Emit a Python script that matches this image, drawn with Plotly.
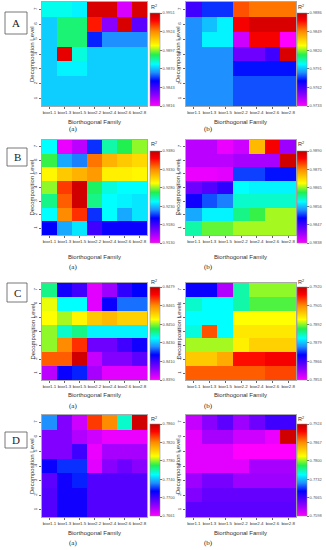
import plotly.graph_objects as go

W, H = 326, 550

families = ["bior1.1", "bior1.3", "bior1.5", "bior2.2", "bior2.4", "bior2.6", "bior2.8"]
levels_top_down = [7, 6, 5, 4, 3, 2, 1]

# Normalised colour position (0 = bottom of colour bar, 1 = top), rows from level 7 down to level 1
z_A_a = [
    [0.46, 0.46, 0.44, 0.97, 0.97, 0.04, 0.97],
    [0.41, 0.53, 0.53, 0.90, 0.12, 0.97, 0.17],
    [0.41, 0.53, 0.53, 0.29, 0.36, 0.36, 0.36],
    [0.41, 0.95, 0.47, 0.41, 0.41, 0.41, 0.41],
    [0.41, 0.44, 0.44, 0.41, 0.41, 0.41, 0.41],
    [0.41, 0.41, 0.41, 0.41, 0.41, 0.41, 0.41],
    [0.41, 0.41, 0.41, 0.41, 0.41, 0.41, 0.41],
]
z_A_b = [
    [0.20, 0.30, 0.30, 0.85, 0.82, 0.82, 0.82],
    [0.36, 0.40, 0.44, 0.93, 0.97, 0.97, 0.97],
    [0.36, 0.44, 0.44, 0.05, 0.93, 0.93, 0.00],
    [0.36, 0.36, 0.36, 0.15, 0.15, 0.20, 0.97],
    [0.36, 0.36, 0.36, 0.28, 0.28, 0.28, 0.28],
    [0.36, 0.36, 0.36, 0.32, 0.32, 0.32, 0.32],
    [0.36, 0.36, 0.36, 0.32, 0.32, 0.32, 0.32],
]
z_B_a = [
    [0.45, 0.02, 0.07, 0.30, 0.50, 0.55, 0.60],
    [0.56, 0.38, 0.35, 0.82, 0.75, 0.72, 0.70],
    [0.66, 0.72, 0.75, 0.78, 0.67, 0.67, 0.66],
    [0.60, 0.87, 0.98, 0.54, 0.47, 0.45, 0.45],
    [0.52, 0.84, 0.98, 0.52, 0.45, 0.44, 0.43],
    [0.45, 0.80, 0.88, 0.30, 0.45, 0.38, 0.43],
    [0.27, 0.38, 0.43, 0.20, 0.26, 0.26, 0.26],
]
z_B_b = [
    [0.07, 0.07, 0.02, 0.05, 0.74, 0.93, 0.10],
    [0.07, 0.07, 0.07, 0.09, 0.09, 0.09, 0.98],
    [0.02, 0.02, 0.03, 0.31, 0.31, 0.28, 0.28],
    [0.15, 0.18, 0.22, 0.45, 0.44, 0.44, 0.44],
    [0.25, 0.32, 0.35, 0.48, 0.48, 0.48, 0.48],
    [0.38, 0.44, 0.44, 0.52, 0.56, 0.61, 0.61],
    [0.50, 0.58, 0.58, 0.61, 0.61, 0.61, 0.61],
]
z_C_a = [
    [0.52, 0.25, 0.20, 0.03, 0.10, 0.22, 0.27],
    [0.64, 0.45, 0.45, 0.03, 0.26, 0.34, 0.34],
    [0.65, 0.61, 0.66, 0.72, 0.74, 0.71, 0.71],
    [0.60, 0.48, 0.52, 0.44, 0.44, 0.44, 0.44],
    [0.60, 0.80, 0.88, 0.15, 0.15, 0.20, 0.25],
    [0.84, 0.84, 0.98, 0.06, 0.13, 0.13, 0.17],
    [0.07, 0.26, 0.29, 0.09, 0.03, 0.03, 0.03],
]
z_C_b = [
    [0.26, 0.26, 0.08, 0.50, 0.60, 0.60, 0.60],
    [0.48, 0.45, 0.45, 0.50, 0.57, 0.57, 0.57],
    [0.45, 0.45, 0.45, 0.65, 0.65, 0.65, 0.65],
    [0.47, 0.85, 0.45, 0.68, 0.68, 0.68, 0.68],
    [0.61, 0.61, 0.61, 0.67, 0.71, 0.71, 0.71],
    [0.72, 0.72, 0.76, 0.91, 0.91, 0.93, 0.93],
    [0.84, 0.84, 0.84, 0.84, 0.84, 0.86, 0.86],
]
z_D_a = [
    [0.36, 0.13, 0.05, 0.87, 0.80, 0.48, 0.98],
    [0.13, 0.13, 0.08, 0.05, 0.02, 0.02, 0.02],
    [0.13, 0.13, 0.20, 0.02, 0.09, 0.09, 0.09],
    [0.26, 0.30, 0.30, 0.03, 0.12, 0.15, 0.12],
    [0.17, 0.25, 0.29, 0.18, 0.18, 0.18, 0.18],
    [0.18, 0.25, 0.25, 0.18, 0.18, 0.18, 0.18],
    [0.18, 0.25, 0.25, 0.18, 0.18, 0.18, 0.18],
]
z_D_b = [
    [0.06, 0.12, 0.17, 0.10, 0.15, 0.20, 0.20],
    [0.03, 0.09, 0.09, 0.05, 0.05, 0.02, 0.98],
    [0.03, 0.03, 0.03, 0.00, 0.00, 0.00, 0.00],
    [0.03, 0.03, 0.03, 0.03, 0.09, 0.09, 0.09],
    [0.10, 0.14, 0.14, 0.10, 0.10, 0.10, 0.10],
    [0.13, 0.16, 0.16, 0.16, 0.16, 0.16, 0.16],
    [0.17, 0.17, 0.17, 0.17, 0.17, 0.17, 0.17],
]

# Colour bar tick labels (bottom to top)
cb_A_a = ["0.9816", "0.9843", "0.9870", "0.9897", "0.9924", "0.9951"]
cb_A_b = ["0.9733", "0.9762", "0.9791", "0.9820", "0.9849", "0.9886"]
cb_B_a = ["0.9130", "0.9180", "0.9230", "0.9280", "0.9330", "0.9380"]
cb_B_b = ["0.9838", "0.9847", "0.9856", "0.9865", "0.9875", "0.9890"]
cb_C_a = ["0.8390", "0.8410", "0.8430", "0.8450", "0.8465", "0.8479"]
cb_C_b = ["0.7853", "0.7866", "0.7879", "0.7892", "0.7905", "0.7920"]
cb_D_a = ["0.7661", "0.7700", "0.7740", "0.7780", "0.7820", "0.7860"]
cb_D_b = ["0.7598", "0.7665", "0.7732", "0.7800", "0.7867", "0.7924"]

panel_letters = ["A", "B", "C", "D"]

colorscale = [
    [0.00, "#ff00ff"],
    [0.12, "#8a00ff"],
    [0.27, "#0000ff"],
    [0.36, "#1e90ff"],
    [0.45, "#00ffff"],
    [0.55, "#20f050"],
    [0.65, "#ffff00"],
    [0.80, "#ff8c00"],
    [0.92, "#ff0000"],
    [1.00, "#c00000"],
]

def px(x):
    return x / W

def py(y):
    return 1 - y / H

panels = [
    (z_A_a, cb_A_a), (z_A_b, cb_A_b),
    (z_B_a, cb_B_a), (z_B_b, cb_B_b),
    (z_C_a, cb_C_a), (z_C_b, cb_C_b),
    (z_D_a, cb_D_a), (z_D_b, cb_D_b),
]

rows_geom = [
    dict(top=2, bot=106, cbt=13, cbb=106, title=122, cap=129, box=(5, 12, 27, 34), r2=7),
    dict(top=140, bot=235, cbt=151, cbb=243, title=257, cap=267, box=(7, 148, 27, 166), r2=144),
    dict(top=283, bot=380, cbt=287, cbb=380, title=395, cap=406, box=(7, 283, 27, 302), r2=282),
    dict(top=415, bot=517, cbt=424, cbb=516, title=533, cap=543, box=(5, 432, 27, 448), r2=419),
]
cols_geom = [
    dict(x0=42, x1=147, cbx=150, ytitle=32, cap=73, r2x=154),
    dict(x0=186, x1=296, cbx=297, ytitle=178, cap=208, r2x=301),
]

fig = go.Figure()
annotations = []
shapes = []
font_family = "Liberation Sans, Arial, sans-serif"

for i, (z, cbt) in enumerate(panels):
    r, c = divmod(i, 2)
    rg, cg = rows_geom[r], cols_geom[c]
    n = i + 1
    xa = "x" if n == 1 else f"x{n}"
    ya = "y" if n == 1 else f"y{n}"
    fig.add_trace(go.Heatmap(
        z=z, x=families, y=levels_top_down,
        colorscale=colorscale, zmin=0, zmax=1,
        xaxis=xa, yaxis=ya,
        colorbar=dict(
            x=px(cg["cbx"]), xanchor="left", xref="paper",
            y=py(rg["cbb"]), yanchor="bottom",
            len=rg["cbb"] - rg["cbt"], lenmode="pixels",
            thickness=10, thicknessmode="pixels",
            outlinewidth=0.5, outlinecolor="#888",
            tickvals=[0, 0.2, 0.4, 0.6, 0.8, 1.0], ticktext=cbt,
            ticks="outside", ticklen=2, tickwidth=0.5, tickcolor="#777",
            tickfont=dict(size=4, color="#555", family=font_family),
            xpad=0, ypad=0,
        ),
        hoverinfo="skip",
    ))
    axkey = "xaxis" if n == 1 else f"xaxis{n}"
    aykey = "yaxis" if n == 1 else f"yaxis{n}"
    fig.update_layout(**{
        axkey: dict(
            domain=[px(cg["x0"]), px(cg["x1"])], anchor=ya,
            tickfont=dict(size=4.4, color="#333", family=font_family),
            ticks="outside", ticklen=2, tickwidth=0.5, tickcolor="#666",
            showline=True, linecolor="#aaa", linewidth=0.5, mirror=True,
            tickangle=0, showgrid=False, zeroline=False,
        ),
        aykey: dict(
            domain=[py(rg["bot"]), py(rg["top"])], anchor=xa,
            tickvals=[1, 2, 3, 4, 5, 6, 7],
            tickfont=dict(size=4.4, color="#333", family=font_family),
            tickangle=-90,
            ticks="outside", ticklen=2, tickwidth=0.5, tickcolor="#666",
            showline=True, linecolor="#aaa", linewidth=0.5, mirror=True,
            showgrid=False, zeroline=False, range=[0.5, 7.5],
        ),
    })
    annotations.append(dict(
        x=px((cg["x0"] + cg["x1"]) / 2), y=py(rg["title"]), xref="paper", yref="paper",
        text="Biorthogonal Family", showarrow=False,
        font=dict(size=6, color="#333", family=font_family),
        xanchor="center", yanchor="middle",
    ))
    annotations.append(dict(
        x=px(cg["ytitle"]), y=py((rg["top"] + rg["bot"]) / 2), xref="paper", yref="paper",
        text="Decomposition Level", showarrow=False, textangle=-90,
        font=dict(size=6, color="#333", family=font_family),
        xanchor="center", yanchor="middle",
    ))
    annotations.append(dict(
        x=px(cg["cap"]), y=py(rg["cap"]), xref="paper", yref="paper",
        text="(a)" if c == 0 else "(b)", showarrow=False,
        font=dict(size=7, color="#222", family="Liberation Serif, serif"),
        xanchor="center", yanchor="middle",
    ))
    annotations.append(dict(
        x=px(cg["r2x"]), y=py(rg["r2"]), xref="paper", yref="paper",
        text="R<sup>2</sup>", showarrow=False,
        font=dict(size=5.5, color="#333", family=font_family),
        xanchor="center", yanchor="middle",
    ))

for r, letter in enumerate(panel_letters):
    x0, y0, x1, y1 = rows_geom[r]["box"]
    shapes.append(dict(type="rect", xref="paper", yref="paper",
                       x0=px(x0), x1=px(x1), y0=py(y1), y1=py(y0),
                       line=dict(color="#555", width=0.8), fillcolor="white"))
    annotations.append(dict(
        x=px((x0 + x1) / 2), y=py((y0 + y1) / 2), xref="paper", yref="paper",
        text=letter, showarrow=False,
        font=dict(size=11, color="#222", family="Liberation Serif, serif"),
        xanchor="center", yanchor="middle",
    ))

fig.update_layout(
    width=W, height=H,
    margin=dict(l=0, r=0, t=0, b=0),
    paper_bgcolor="white", plot_bgcolor="white",
    annotations=annotations, shapes=shapes,
    showlegend=False,
)

fig.write_html(
    "out.html",
    config={"displayModeBar": False},
    post_script="document.body.style.margin='0';document.body.style.overflow='hidden';",
)
